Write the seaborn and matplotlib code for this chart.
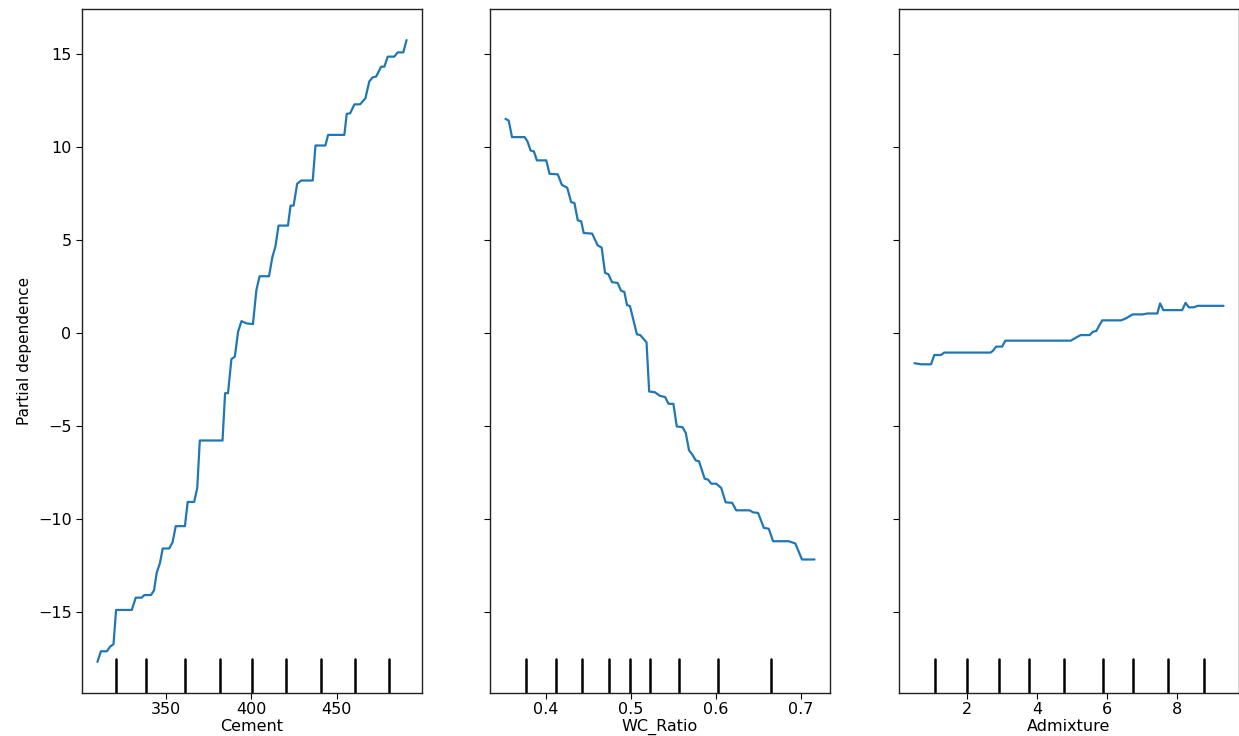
import numpy as np
import pandas as pd
import matplotlib
matplotlib.use("Agg")
import matplotlib.pyplot as plt
import seaborn as sns

# ---- data ----
cement_x = [309.9, 311.9, 315.4, 317.3, 319.3, 320.8, 330.0, 332.3, 335.8, 337.3, 341.2,
            343.0, 344.6, 346.5, 348.1, 351.9, 353.9, 355.7, 361.1, 362.7, 366.5, 368.3,
            369.8, 383.1, 384.6, 386.3, 388.3, 390.3, 392.2, 394.2, 397.1, 400.9, 402.9,
            404.8, 410.3, 412.3, 414.0, 415.9, 421.4, 422.9, 424.7, 426.8, 429.2, 435.9,
            437.5, 443.3, 444.9, 454.4, 455.8, 457.8, 460.3, 463.6, 466.7, 469.0, 471.0,
            473.0, 475.9, 477.8, 479.8, 483.6, 485.6, 488.9, 490.8]
cement_pd = [-17.66, -17.09, -17.09, -16.84, -16.71, -14.87, -14.87, -14.21, -14.21, -14.07,
             -14.07, -13.82, -12.87, -12.34, -11.57, -11.57, -11.23, -10.37, -10.37, -9.07,
             -9.07, -8.32, -5.77, -5.77, -3.23, -3.23, -1.40, -1.27, 0.07, 0.64, 0.52, 0.48,
             2.30, 3.05, 3.05, 4.09, 4.62, 5.77, 5.77, 6.84, 6.84, 8.02, 8.19, 8.19, 10.07,
             10.07, 10.64, 10.64, 11.77, 11.80, 12.28, 12.28, 12.60, 13.51, 13.73, 13.77,
             14.30, 14.30, 14.84, 14.84, 15.07, 15.07, 15.73]
cement_deciles = [320.6, 338.2, 361.1, 381.9, 400.6, 420.0, 441.0, 460.9, 480.7]

wc_x = [0.3522, 0.3560, 0.3599, 0.3748, 0.3780, 0.3818, 0.3857, 0.3892, 0.4002, 0.4041,
        0.4138, 0.4185, 0.4249, 0.4295, 0.4334, 0.4373, 0.4413, 0.4443, 0.4542, 0.4607,
        0.4654, 0.4694, 0.4733, 0.4776, 0.4842, 0.4882, 0.4921, 0.4952, 0.4987, 0.5069,
        0.5108, 0.5182, 0.5213, 0.5280, 0.5339, 0.5401, 0.5440, 0.5498, 0.5538, 0.5604,
        0.5644, 0.5682, 0.5721, 0.5761, 0.5800, 0.5866, 0.5905, 0.5944, 0.6002, 0.6061,
        0.6113, 0.6190, 0.6237, 0.6394, 0.6436, 0.6495, 0.6562, 0.6620, 0.6671, 0.6855,
        0.6933, 0.7011, 0.7159]
wc_pd = [11.50, 11.41, 10.52, 10.52, 10.30, 9.80, 9.75, 9.27, 9.27, 8.55, 8.52, 7.96, 7.80,
         7.03, 6.98, 6.05, 6.00, 5.37, 5.34, 4.71, 4.59, 3.23, 3.16, 2.73, 2.69, 2.27, 2.21,
         1.50, 1.45, -0.07, -0.11, -0.50, -3.14, -3.18, -3.37, -3.44, -3.80, -3.80, -5.02,
         -5.05, -5.37, -6.30, -6.53, -6.84, -6.89, -7.82, -7.87, -8.09, -8.09, -8.32, -9.09,
         -9.12, -9.52, -9.52, -9.63, -9.66, -10.46, -10.51, -11.18, -11.18, -11.30, -12.16,
         -12.16]
wc_deciles = [0.3768, 0.4111, 0.4420, 0.4736, 0.4991, 0.5225, 0.5565, 0.6026, 0.6647]

adm_x = [0.486, 0.676, 0.960, 1.053, 1.243, 1.337, 2.661, 2.726, 2.822, 2.992, 3.086, 4.957,
         5.119, 5.241, 5.496, 5.590, 5.686, 5.751, 5.856, 6.395, 6.536, 6.724, 7.007, 7.149,
         7.432, 7.509, 7.603, 8.141, 8.238, 8.331, 8.473, 8.586, 9.324]
adm_pd = [-1.62, -1.68, -1.68, -1.18, -1.18, -1.05, -1.05, -0.96, -0.73, -0.73, -0.41, -0.41,
          -0.23, -0.11, -0.11, 0.07, 0.11, 0.34, 0.68, 0.68, 0.79, 1.00, 1.00, 1.05, 1.05,
          1.59, 1.23, 1.23, 1.62, 1.38, 1.38, 1.46, 1.46]
adm_deciles = [1.081, 2.0, 2.896, 3.766, 4.767, 5.873, 6.735, 7.744, 8.757]

features = ["Cement", "WC_Ratio", "Admixture"]
xs = [cement_x, wc_x, adm_x]
ys = [cement_pd, wc_pd, adm_pd]
deciles = [cement_deciles, wc_deciles, adm_deciles]

sns.set_style("ticks", {"text.color": "black", "axes.labelcolor": "black",
                        "xtick.color": "black", "ytick.color": "black",
                        "axes.edgecolor": "#222222"})
plt.rcParams["font.family"] = ["DejaVu Sans"]

fig = plt.figure(figsize=(12.39, 7.36), dpi=100)
lefts = [82, 490, 899]
width = 340
bottom = 1 - 693 / 736
height = (693 - 9) / 736
axes = []
for i in range(3):
    kw = {"sharey": axes[0]} if axes else {}
    ax = fig.add_axes([lefts[i] / 1239, bottom, width / 1239, height], **kw)
    axes.append(ax)

for i, ax in enumerate(axes):
    df = pd.DataFrame({"x": xs[i], "y": ys[i]})
    sns.lineplot(data=df, x="x", y="y", ax=ax, color="#1f77b4", lw=1.6,
                 estimator=None, sort=False)
    for d in deciles[i]:
        ax.axvline(d, ymin=0, ymax=0.05, color="black", lw=1.8)
    ax.set_xlabel(features[i], fontsize=11.5, labelpad=1.5)
    ax.tick_params(labelsize=11.5, length=4)
    ax.tick_params(axis="x", pad=2.5)
    for s in ax.spines.values():
        s.set_visible(True)
        s.set_color("#222222")
        s.set_linewidth(1.0)
    if i == 0:
        ax.set_ylabel("Partial dependence", fontsize=11)
        ax.set_yticks([-15, -10, -5, 0, 5, 10, 15])
    else:
        ax.set_ylabel("")
        ax.tick_params(labelleft=False)

axes[0].set_xticks([350, 400, 450])
axes[1].set_xticks([0.4, 0.5, 0.6, 0.7])
axes[2].set_xticks([2, 4, 6, 8])

fig.savefig("out.png", dpi=100)
